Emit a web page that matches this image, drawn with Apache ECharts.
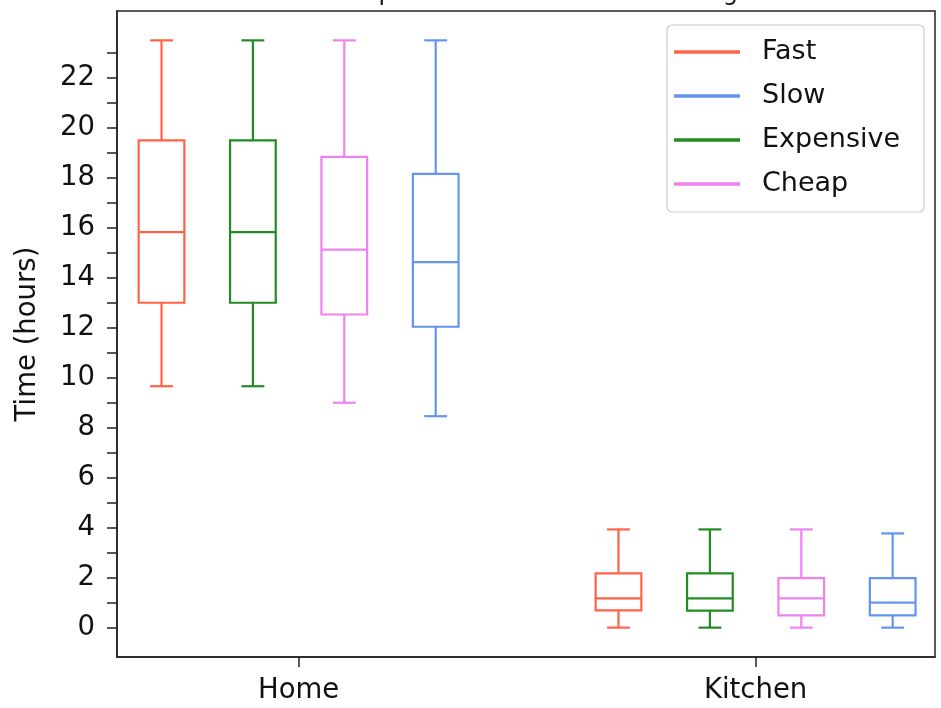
<!DOCTYPE html>
<html>
<head>
<meta charset="utf-8">
<style>
  html, body { margin: 0; padding: 0; background: #fff; }
  #chart { width: 941px; height: 708px; }
</style>
<script src="https://cdn.jsdelivr.net/npm/echarts@6/dist/echarts.min.js"></script>
</head>
<body>
<div id="chart"></div>
<script>
// Locations on the x axis
const categories = ['Home', 'Kitchen'];

// Box statistics per location: [lower whisker, Q1, median, Q3, upper whisker]
const fastStats      = [[9.66, 13.0, 15.83, 19.5, 23.5], [0, 0.69, 1.17, 2.17, 3.93]];
const expensiveStats = [[9.66, 13.0, 15.83, 19.5, 23.5], [0, 0.68, 1.17, 2.17, 3.93]];
const cheapStats     = [[9.0, 12.53, 15.13, 18.84, 23.5], [0, 0.49, 1.17, 1.98, 3.93]];
const slowStats      = [[8.46, 12.04, 14.63, 18.16, 23.5], [0, 0.49, 1.0, 1.98, 3.77]];

// Axis tick labels
const yTickLabels = [0, 2, 4, 6, 8, 10, 12, 14, 16, 18, 20, 22];
const yTickMarks = [0, 1, 2, 3, 4, 5, 6, 7, 8, 9, 10, 11, 12, 13, 14, 15, 16, 17, 18, 19, 20, 21, 22, 23];

const legendOrder = ['Fast', 'Slow', 'Expensive', 'Cheap'];

const FONT = 'DejaVu Sans';
const TEXT_COLOR = '#111';
const FRAME = '#222';

// Series drawn left to right within each location group
const groups = [
  { name: 'Fast', stats: fastStats, color: '#ff6347', offset: -0.3 },
  { name: 'Expensive', stats: expensiveStats, color: '#228b22', offset: -0.1 },
  { name: 'Cheap', stats: cheapStats, color: '#ee82ee', offset: 0.1 },
  { name: 'Slow', stats: slowStats, color: '#6495ed', offset: 0.3 }
];

const BOX_HALF = 0.05;
const CAP_HALF = 0.025;

function makeRenderer(offset, color) {
  return function (params, api) {
    const x = api.value(0) + offset;
    const lo = api.value(1), q1 = api.value(2), med = api.value(3), q3 = api.value(4), hi = api.value(5);
    const p = (xx, yy) => api.coord([xx, yy]);
    const style = { stroke: color, lineWidth: 2.2, fill: null };
    const line = (a, b) => ({ type: 'line', shape: { x1: a[0], y1: a[1], x2: b[0], y2: b[1] }, style: style });
    const tl = p(x - BOX_HALF, q3), br = p(x + BOX_HALF, q1);
    return {
      type: 'group',
      children: [
        { type: 'rect', shape: { x: tl[0], y: tl[1], width: br[0] - tl[0], height: br[1] - tl[1] }, style: style },
        line(p(x - BOX_HALF, med), p(x + BOX_HALF, med)),
        line(p(x, q3), p(x, hi)),
        line(p(x, q1), p(x, lo)),
        line(p(x - CAP_HALF, hi), p(x + CAP_HALF, hi)),
        line(p(x - CAP_HALF, lo), p(x + CAP_HALF, lo))
      ]
    };
  };
}

const series = groups.map(g => ({
  name: g.name,
  type: 'custom',
  itemStyle: { color: g.color },
  renderItem: makeRenderer(g.offset, g.color),
  encode: { x: 0, y: [1, 2, 3, 4, 5] },
  data: g.stats.map((s, i) => [i].concat(s)),
  clip: false
}));

const chart = echarts.init(document.getElementById('chart'), null, { renderer: 'canvas' });
chart.setOption({
  animation: false,
  backgroundColor: '#fff',
  title: {
    text: 'Time Spent: Home and Kitchen Usage',
    left: 292,
    top: -23,
    textStyle: { fontFamily: FONT, fontSize: 24, fontWeight: 'normal', color: TEXT_COLOR }
  },
  grid: {
    left: 117, right: 6, top: 11, bottom: 51,
    show: true, borderColor: FRAME, borderWidth: 1.5, backgroundColor: 'transparent'
  },
  legend: {
    data: legendOrder,
    orient: 'vertical',
    left: 667,
    top: 25,
    icon: 'rect',
    itemWidth: 66,
    itemHeight: 3.5,
    itemGap: 12,
    padding: [11, 24, 12, 7],
    backgroundColor: '#fff',
    borderColor: '#cccccc',
    borderWidth: 1.2,
    borderRadius: 5,
    textStyle: { fontFamily: FONT, fontSize: 27, color: TEXT_COLOR, lineHeight: 32, padding: [0, 0, 0, 17] }
  },
  xAxis: {
    type: 'value',
    min: -0.3974,
    max: 1.3926,
    splitLine: { show: false },
    axisLine: { show: true, onZero: false, lineStyle: { color: FRAME, width: 1.5 } },
    axisTick: { show: true, length: 10, customValues: [0, 1], lineStyle: { color: FRAME, width: 1.5 } },
    axisLabel: {
      customValues: [0, 1],
      formatter: v => categories[Math.round(v)],
      margin: 20,
      fontFamily: FONT, fontSize: 27.5, color: TEXT_COLOR
    }
  },
  yAxis: {
    type: 'value',
    min: -1.175,
    max: 24.675,
    name: 'Time (hours)',
    nameLocation: 'middle',
    nameGap: 75,
    nameTextStyle: { fontFamily: FONT, fontSize: 27.5, color: TEXT_COLOR },
    splitLine: { show: false },
    axisLine: { show: true, onZero: false, lineStyle: { color: FRAME, width: 1.5 } },
    axisTick: { show: true, length: 10, customValues: yTickMarks, lineStyle: { color: FRAME, width: 1.5 } },
    axisLabel: {
      customValues: yTickLabels,
      margin: 22,
      fontFamily: FONT, fontSize: 27.5, color: TEXT_COLOR
    }
  },
  series: series
});
</script>
</body>
</html>
